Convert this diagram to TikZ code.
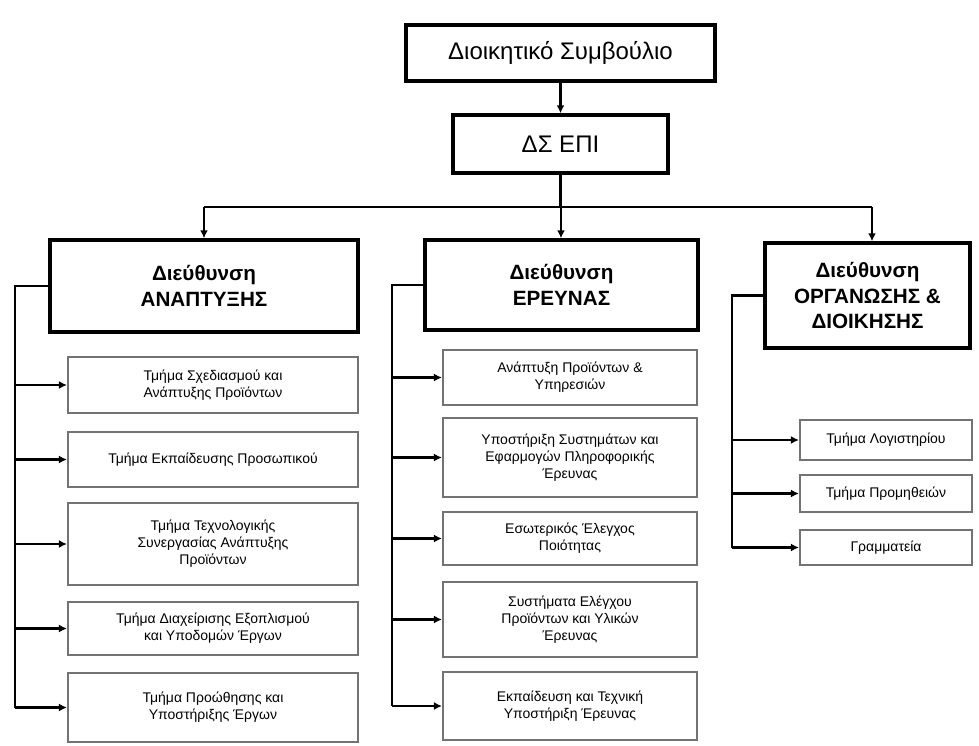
\documentclass[tikz,border=0pt]{standalone}
\usepackage{fontspec}
\setmainfont{Liberation Sans}
\usetikzlibrary{arrows.meta}
\newcommand{\bx}[7]{\node[#1,minimum width={(#5-#3)*0.75pt},minimum height={(#6-#4)*0.75pt}] (#2) at ({(#3+#5)/2},{(#4+#6)/2}) {#7};}
\begin{document}
\begin{tikzpicture}[x=0.75pt,y=-0.75pt,
  mainbox/.style={draw=black,line width=2.6pt,inner sep=0pt,align=center,font=\fontsize{15.5}{19}\selectfont\bfseries},
  topbox/.style={draw=black,line width=2.6pt,inner sep=0pt,align=center,font=\fontsize{18}{21}\selectfont},
  subbox/.style={draw=black!55,line width=1.6pt,inner sep=0pt,align=center,font=\fontsize{10.5}{12.8}\selectfont},
  conn/.style={draw=black,line width=1.6pt},
  arr/.style={conn,-{Latex[length=6pt,width=6pt]}}]
\useasboundingbox (0,0) rectangle (979,746);
% top levels
\bx{topbox}{top}{406}{25}{715}{81}{Διοικητικό Συμβούλιο}
\bx{topbox}{ds}{453}{115}{668}{173}{ΔΣ ΕΠΙ}
% main directorates
\bx{mainbox}{m1}{50}{240}{358}{332}{Διεύθυνση\\ΑΝΑΠΤΥΞΗΣ}
\bx{mainbox}{m2}{425}{240}{698}{330}{Διεύθυνση\\ΕΡΕΥΝΑΣ}
\bx{mainbox}{m3}{765}{243}{970}{348}{Διεύθυνση\\ΟΡΓΑΝΩΣΗΣ \&\\ΔΙΟΙΚΗΣΗΣ}
% bus
\coordinate (b1) at (204,207);
\coordinate (b2) at (561,207);
\coordinate (b3) at (872,207);
\draw[arr] (top.south) -- (ds.north);
\draw[conn] (ds.south) -- (ds.south |- b2);
\draw[conn] (b1) -- (b3);
\draw[arr] (b1) -- (b1 |- m1.north);
\draw[arr] (b2) -- (b2 |- m2.north);
\draw[arr] (b3) -- (b3 |- m3.north);
% column 1 sub-boxes
\bx{subbox}{s11}{68}{357}{358}{413}{Τμήμα Σχεδιασμού και\\Ανάπτυξης Προϊόντων}
\bx{subbox}{s12}{68}{432}{358}{487}{Τμήμα Εκπαίδευσης Προσωπικού}
\bx{subbox}{s13}{68}{503}{358}{585}{Τμήμα Τεχνολογικής\\Συνεργασίας Ανάπτυξης\\Προϊόντων}
\bx{subbox}{s14}{68}{602}{358}{655}{Τμήμα Διαχείρισης Εξοπλισμού\\και Υποδομών Έργων}
\bx{subbox}{s15}{68}{673}{358}{742}{Τμήμα Προώθησης και\\Υποστήριξης Έργων}
% column 2 sub-boxes
\bx{subbox}{s21}{443}{350}{697}{405}{Ανάπτυξη Προϊόντων \&\\Υπηρεσιών}
\bx{subbox}{s22}{443}{418}{697}{497}{Υποστήριξη Συστημάτων και\\Εφαρμογών Πληροφορικής\\Έρευνας}
\bx{subbox}{s23}{443}{512}{697}{565}{Εσωτερικός Έλεγχος\\Ποιότητας}
\bx{subbox}{s24}{443}{582}{697}{657}{Συστήματα Ελέγχου\\Προϊόντων και Υλικών\\Έρευνας}
\bx{subbox}{s25}{443}{672}{697}{740}{Εκπαίδευση και Τεχνική\\Υποστήριξη Έρευνας}
% column 3 sub-boxes
\bx{subbox}{s31}{800}{420}{972}{460}{Τμήμα Λογιστηρίου}
\bx{subbox}{s32}{800}{475}{972}{512}{Τμήμα Προμηθειών}
\bx{subbox}{s33}{800}{530}{972}{565}{Γραμματεία}
% brackets
\coordinate (L1) at (15,286);
\coordinate (L2) at (392,285);
\coordinate (L3) at (732,296);
\draw[conn] (m1.west) -- (m1.west -| L1) -- (L1 |- s15.west);
\draw[conn] (m2.west) -- (m2.west -| L2) -- (L2 |- s25.west);
\draw[conn] (m3.west) -- (m3.west -| L3) -- (L3 |- s33.west);
\foreach \s in {s11,s12,s13,s14,s15}{\draw[arr] (L1 |- \s.west) -- (\s.west);}
\foreach \s in {s21,s22,s23,s24,s25}{\draw[arr] (L2 |- \s.west) -- (\s.west);}
\foreach \s in {s31,s32,s33}{\draw[arr] (L3 |- \s.west) -- (\s.west);}
\end{tikzpicture}
\end{document}
